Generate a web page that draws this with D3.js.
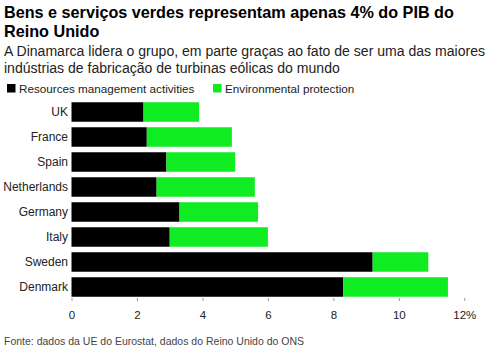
<!DOCTYPE html>
<html><head><meta charset="utf-8">
<script src="https://cdn.jsdelivr.net/npm/d3@7"></script>
<style>body{margin:0;background:#fff}svg{display:block}</style>
</head><body>
<script>
const categories = ["UK","France","Spain","Netherlands","Germany","Italy","Sweden","Denmark"];
const resources = [2.2, 2.3, 2.9, 2.6, 3.3, 3.0, 9.2, 8.3];
const environmental = [1.7, 2.6, 2.1, 3.0, 2.4, 3.0, 1.7, 3.2];
const seriesNames = ["Resources management activities","Environmental protection"];
const tickValues = [0,2,4,6,8,10,12];
const colors = ["#000000","#10ec22"];

const W=485,H=360;
const svg=d3.select("body").append("svg").attr("width",W).attr("height",H);
const font="'Liberation Sans', Arial, sans-serif";

svg.append("text").attr("x",4).attr("y",18).attr("font-family",font).attr("font-weight","bold").attr("font-size",16.2).attr("fill","#000")
  .text("Bens e serviços verdes representam apenas 4% do PIB do");
svg.append("text").attr("x",4).attr("y",37).attr("font-family",font).attr("font-weight","bold").attr("font-size",16.2).attr("fill","#000")
  .text("Reino Unido");
svg.append("text").attr("x",4).attr("y",56).attr("font-family",font).attr("font-size",14.05).attr("fill","#222")
  .text("A Dinamarca lidera o grupo, em parte graças ao fato de ser uma das maiores");
svg.append("text").attr("x",4).attr("y",73).attr("font-family",font).attr("font-size",14.05).attr("fill","#222")
  .text("indústrias de fabricação de turbinas eólicas do mundo");

// legend
const leg=svg.append("g");
const legX=[7,213];
seriesNames.forEach((n,i)=>{
  leg.append("rect").attr("x",legX[i]).attr("y",84).attr("width",8.5).attr("height",8.5).attr("fill",colors[i]);
  leg.append("text").attr("x",legX[i]+12).attr("y",92.5).attr("font-family",font).attr("font-size",11.7).attr("fill","#222").text(n);
});

const x=d3.scaleLinear().domain([0,12]).range([71.5,464.3]);
const y=d3.scaleBand().domain(categories).range([99.5,299.5]).paddingInner(0.22).paddingOuter(0.11);

const data=categories.map((c,i)=>({cat:c,r:resources[i],e:environmental[i]}));
const stack=d3.stack().keys(["r","e"])(data);
svg.append("g").selectAll("g").data(stack).join("g").attr("fill",(d,i)=>colors[i])
  .selectAll("rect").data(d=>d).join("rect")
  .attr("x",d=>x(d[0])).attr("width",d=>x(d[1])-x(d[0]))
  .attr("y",d=>y(d.data.cat)).attr("height",y.bandwidth());

// category labels
svg.append("g").selectAll("text").data(categories).join("text")
  .attr("x",68).attr("y",d=>y(d)+y.bandwidth()/2+4.3)
  .attr("text-anchor","end").attr("font-family",font).attr("font-size",12).attr("fill","#222").text(d=>d);

// x axis
const ax=svg.append("g").attr("transform","translate(0,298)")
  .call(d3.axisBottom(x).tickValues(tickValues).tickSize(3).tickPadding(10).tickFormat(d=>d===12?"12%":d));
ax.select(".domain").remove();
ax.selectAll("line").attr("stroke","#999");
ax.selectAll("text").attr("font-family",font).attr("font-size",11.5).attr("fill","#222");

svg.append("text").attr("x",4).attr("y",344.5).attr("font-family",font).attr("font-size",10.5).attr("fill","#444")
  .text("Fonte: dados da UE do Eurostat, dados do Reino Unido do ONS");
</script>
</body></html>
